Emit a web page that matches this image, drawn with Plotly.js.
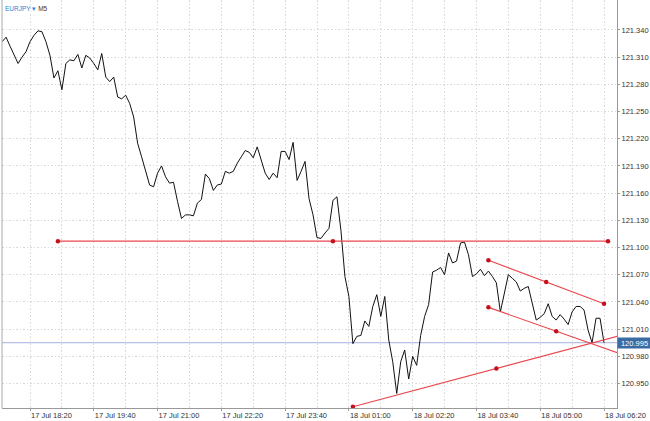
<!DOCTYPE html>
<html>
<head>
<meta charset="utf-8">
<script src="https://cdn.plot.ly/plotly-3.0.1.min.js"></script>
<style>html,body{margin:0;padding:0;background:#fff;}#chart{width:650px;height:421px;}</style>
</head>
<body>
<div id="chart"></div>
<script>
// ---- data ----
const symbol = 'EURJPY';
const timeframe = 'M5';
const startTime = '2019-07-17T17:45:00Z';
const stepMinutes = 5;
const closes = [
  121.327,121.332,121.322,121.313,121.303,121.310,121.316,121.327,121.334,121.339,
  121.338,121.327,121.312,121.287,121.295,121.274,121.303,121.307,121.306,121.313,
  121.298,121.312,121.309,121.303,121.296,121.314,121.288,121.283,121.288,121.266,
  121.264,121.268,121.259,121.244,121.215,121.200,121.185,121.169,121.167,121.182,
  121.190,121.178,121.171,121.172,121.151,121.132,121.136,121.136,121.135,121.149,
  121.153,121.181,121.176,121.163,121.169,121.170,121.184,121.182,121.184,121.193,
  121.200,121.207,121.205,121.199,121.211,121.197,121.182,121.175,121.182,121.177,
  121.206,121.206,121.197,121.216,121.174,121.184,121.195,121.154,121.136,121.111,
  121.110,121.116,121.121,121.152,121.156,121.119,121.068,121.046,120.994,121.002,
  121.003,121.019,121.013,121.035,121.048,121.024,121.046,120.998,120.974,120.939,
  120.974,120.987,120.955,120.980,120.970,121.003,121.024,121.037,121.073,121.075,
  121.078,121.070,121.094,121.083,121.085,121.105,121.106,121.092,121.068,121.071,
  121.076,121.069,121.074,121.068,121.061,121.029,121.050,121.070,121.066,121.062,
  121.052,121.055,121.057,121.040,121.020,121.023,121.027,121.038,121.024,121.020,
  121.026,121.021,121.015,121.029,121.035,121.035,121.031,121.009,120.995,121.022,
  121.022,120.995
];
const currentPrice = 120.995;

const xTickVals = ['2019-07-17 18:20','2019-07-17 19:40','2019-07-17 21:00','2019-07-17 22:20','2019-07-17 23:40',
                   '2019-07-18 01:00','2019-07-18 02:20','2019-07-18 03:40','2019-07-18 05:00','2019-07-18 06:20'];
const xTickText = ['17 Jul 18:20','17 Jul 19:40','17 Jul 21:00','17 Jul 22:20','17 Jul 23:40',
                   '18 Jul 01:00','18 Jul 02:20','18 Jul 03:40','18 Jul 05:00','18 Jul 06:20'];
const yTickVals = [120.950,120.980,121.010,121.040,121.070,121.100,121.130,121.160,121.190,121.220,121.250,121.280,121.310,121.340];
const yTickText = ['120.950','120.980','121.010','121.040','121.070','121.100','121.130','121.160','121.190','121.220','121.250','121.280','121.310','121.340'];

// drawn trend lines (anchor 1, middle, anchor 2)
const hLineTimes = ['2019-07-17 18:55','2019-07-18 00:40','2019-07-18 06:25'];
const hLinePrices = [121.107,121.107,121.107];
const upChTimes = ['2019-07-18 03:55','2019-07-18 05:07:30','2019-07-18 06:20'];
const upChPrices = [121.086,121.062,121.038];
const loChTimes = ['2019-07-18 03:55','2019-07-18 05:20','2019-07-18 06:45'];
const loChPrices = [121.034,121.0077,120.9814];
const riseTimes = ['2019-07-18 01:05','2019-07-18 04:05','2019-07-18 07:05'];
const risePrices = [120.9244,120.9666,121.0088];

// ---- build time axis ----
function fmt(ms){
  const d = new Date(ms);
  const p = n => String(n).padStart(2,'0');
  return d.getUTCFullYear()+'-'+p(d.getUTCMonth()+1)+'-'+p(d.getUTCDate())+' '+p(d.getUTCHours())+':'+p(d.getUTCMinutes());
}
const t0 = Date.parse(startTime);
const times = closes.map((_, i) => fmt(t0 + i*stepMinutes*60000));

const red = '#e8474c';
const dotRed = '#c8101a';
const lineTrace = (x, y) => ({x, y, type:'scatter', mode:'lines', line:{color:red, width:1.1}, hoverinfo:'skip', showlegend:false});
const dotTrace = (x, y) => ({x, y, type:'scatter', mode:'markers', marker:{color:dotRed, size:4.5}, cliponaxis:false, hoverinfo:'skip', showlegend:false});

const traces = [
  {x: times, y: closes, type:'scatter', mode:'lines', line:{color:'#111', width:1}, showlegend:false},
  lineTrace(hLineTimes, hLinePrices),
  lineTrace(upChTimes, upChPrices),
  lineTrace(loChTimes, loChPrices),
  lineTrace(riseTimes, risePrices),
  dotTrace(hLineTimes, hLinePrices),
  dotTrace(upChTimes, upChPrices),
  dotTrace(loChTimes.slice(0,2), loChPrices.slice(0,2)),
  dotTrace(riseTimes.slice(0,2), risePrices.slice(0,2))
];

const fontFam = 'Liberation Sans, Arial, sans-serif';
const axisFont = {family:fontFam, size:7.5, color:'#333'};
const gridCol = '#d9d9d9';
const gridDash = '1.5px,2px';
const layout = {
  width:650, height:421,
  margin:{l:2, r:33, t:0, b:13, pad:0},
  paper_bgcolor:'#fff', plot_bgcolor:'#fff',
  showlegend:false,
  xaxis:{
    type:'date',
    range:['2019-07-17 17:44:52','2019-07-18 06:36:18'],
    tickmode:'array', tickvals:xTickVals, ticktext:xTickText,
    ticklabelposition:'outside right',
    ticks:'outside', ticklen:2, tickcolor:'#999',
    showline:true, linecolor:'#999', linewidth:1,
    showgrid:true, gridcolor:gridCol, griddash:gridDash, gridwidth:1,
    minor:{tick0:'2019-07-17 18:20', dtick:40*60000, showgrid:true, gridcolor:gridCol, griddash:gridDash, ticks:''},
    zeroline:false, tickfont:axisFont, fixedrange:true
  },
  yaxis:{
    side:'right',
    range:[120.923, 121.373],
    tickmode:'array', tickvals:yTickVals, ticktext:yTickText,
    ticks:'outside', ticklen:2, tickcolor:'#999',
    showline:true, linecolor:'#999', linewidth:1,
    showgrid:true, gridcolor:gridCol, griddash:gridDash, gridwidth:1,
    zeroline:false, tickfont:axisFont, fixedrange:true
  },
  shapes:[
    {type:'line', xref:'paper', yref:'paper', x0:0, x1:0, y0:0, y1:1, line:{color:'#aaa', width:1}},
    {type:'line', xref:'paper', yref:'y', x0:0, x1:1, y0:currentPrice, y1:currentPrice, line:{color:'#a3b0de', width:1}, layer:'below'}
  ],
  annotations:[
    {xref:'paper', yref:'paper', x:0, y:1, xanchor:'left', yanchor:'top', xshift:1, yshift:-3, showarrow:false,
     text:'<span style="color:#2a84d6">'+symbol+' ▾</span> '+timeframe,
     font:{family:fontFam, size:6.5, color:'#333'}},
    {xref:'paper', yref:'y', x:1, y:currentPrice, xanchor:'left', yanchor:'middle', xshift:0, showarrow:false,
     text:currentPrice.toFixed(3), bgcolor:'#3a6ca3', borderpad:0.5, width:32,
     font:{family:fontFam, size:7.5, color:'#fff'}}
  ]
};

Plotly.newPlot('chart', traces, layout, {displayModeBar:false, staticPlot:true});
</script>
</body>
</html>
